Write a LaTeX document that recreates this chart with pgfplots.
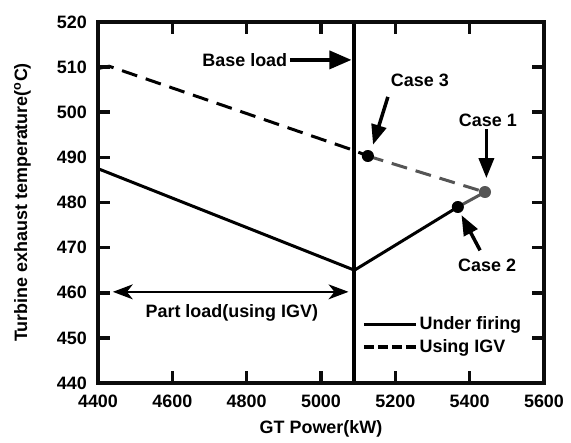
\documentclass[border=0pt]{standalone}
\usepackage{fontspec}
\setmainfont{Liberation Sans}
\usepackage{pgfplots}
\pgfplotsset{compat=1.18}
\usetikzlibrary{arrows.meta}
\definecolor{grayline}{RGB}{85,85,85}
\definecolor{framecol}{RGB}{12,12,12}
\begin{document}
\fontsize{18}{21}\selectfont\bfseries
\begin{tikzpicture}
% ---- data, legend and annotations ----
\begin{axis}[
  width=446bp, height=361bp, scale only axis,
  clip=false, hide axis,
  xmin=4400, xmax=5600, ymin=440, ymax=520,
  legend style={at={(0.585,0.066)}, anchor=south west, draw=none, fill=none,
    font=\fontsize{18}{21}\selectfont\bfseries, row sep=3bp},
  legend cell align=left,
  legend image code/.code={\draw[#1] (0bp,0bp) -- (52bp,0bp);},
]
\addlegendimage{black, line width=3.5bp}
\addlegendentry{Under firing}
\addlegendimage{black, line width=3.5bp, dash pattern=on 10bp off 4bp}
\addlegendentry{Using IGV}
\addplot[black, line width=3bp, forget plot] coordinates {(4400,487.5) (5090,465) (5368,479)};
\addplot[black, line width=3bp, dash pattern=on 16bp off 9bp, forget plot] coordinates {(4400,509.7) (4430,510.2) (5090,491.5) (5126,490.3)};
\addplot[grayline, line width=3bp, dash pattern=on 16bp off 9bp, forget plot] coordinates {(5126,490.3) (5441,482.3)};
\addplot[grayline, line width=3bp, forget plot] coordinates {(5368,479) (5441,482.3)};
\addplot[black, line width=4bp, forget plot] coordinates {(5090,440) (5090,520)};
\addplot[black, line width=12bp, line cap=round, forget plot] coordinates {(5126,490.3) (5126.3,490.3)};
\addplot[black, line width=12bp, line cap=round, forget plot] coordinates {(5368,479) (5368.3,479)};
\addplot[grayline, line width=12bp, line cap=round, forget plot] coordinates {(5441,482.3) (5441.3,482.3)};
\node at (axis cs:4795,511.6) {Base load};
\draw[line width=3.5bp, -{Triangle[length=22bp,width=18bp]}] (axis cs:4916,511.6) -- (axis cs:5082,511.6);
\draw[line width=1.5bp, {Stealth[length=20bp,width=15bp,inset=6bp]}-{Stealth[length=20bp,width=15bp,inset=6bp]}] (axis cs:4440,460.2) -- (axis cs:5074,460.2);
\node at (axis cs:4760,455.5) {Part load(using IGV)};
\node at (axis cs:5266,507.1) {Case 3};
\draw[line width=3.5bp, -{Triangle[length=20bp,width=15bp]}] (axis cs:5180,503.4) -- (axis cs:5140,492.8);
\node at (axis cs:5449,498.3) {Case 1};
\draw[line width=3.5bp, -{Triangle[length=20bp,width=15bp]}] (axis cs:5445,496.2) -- (axis cs:5445,485.4);
\node at (axis cs:5447,466.1) {Case 2};
\draw[line width=3.5bp, -{Triangle[length=20bp,width=15bp]}] (axis cs:5428,469.4) -- (axis cs:5378,477.2);
\end{axis}
% ---- frame, ticks and labels ----
\begin{axis}[
  width=446bp, height=361bp, scale only axis,
  clip=false,
  axis line style={framecol, line width=4bp},
  xmin=4400, xmax=5600, ymin=440, ymax=520,
  xtick={4400,4600,...,5600}, ytick={440,450,...,520},
  tick align=inside, major tick length=12bp,
  major tick style={framecol, line width=3.5bp},
  /pgf/number format/assume math mode=true,
  /pgf/number format/1000 sep={},
  tick label style={font=\fontsize{18}{21}\selectfont\bfseries},
  xticklabel style={yshift=-6bp},
  yticklabel style={xshift=-5bp},
  label style={font=\fontsize{18}{21}\selectfont\bfseries},
  xlabel={GT Power(kW)},
  ylabel={Turbine exhaust temperature(\textsuperscript{o}C)},
  ylabel style={at={(ticklabel cs:0.5,14bp)}},
]
\addplot[framecol, line width=0.1bp, forget plot] coordinates {(4400,440) (4400,440.01)};
\end{axis}
\path (current axis.south west) ++(-98bp,-56bp) -- ++(571bp,439bp);
\end{tikzpicture}
\end{document}
